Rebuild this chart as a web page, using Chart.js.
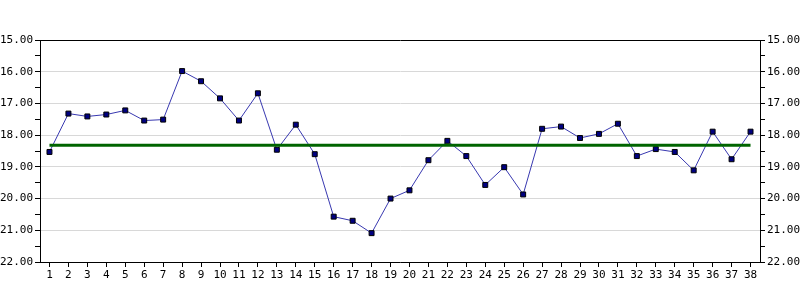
<!DOCTYPE html>
<html>
<head>
<meta charset="utf-8">
<script src="https://cdn.jsdelivr.net/npm/chart.js@4/dist/chart.umd.min.js"></script>
<style>
  html, body { margin: 0; padding: 0; background: #fff; }
  #wrap { width: 800px; height: 300px; }
</style>
</head>
<body>
<div id="wrap"><canvas id="chart" width="800" height="300"></canvas></div>
<script>
const categories = ["1","2","3","4","5","6","7","8","9","10","11","12","13","14","15","16","17","18","19",
  "20","21","22","23","24","25","26","27","28","29","30","31","32","33","34","35","36","37","38"];

const values = [18.53, 17.32, 17.41, 17.35, 17.22, 17.54, 17.51, 15.98, 16.30, 16.84, 17.54, 16.68, 18.46,
  17.67, 18.60, 20.57, 20.70, 21.09, 20.00, 19.74, 18.79, 18.18, 18.66, 19.57, 19.01, 19.87,
  17.80, 17.73, 18.09, 17.96, 17.64, 18.66, 18.44, 18.53, 19.11, 17.89, 18.76, 17.89];

const average = 18.32;
const averageLine = categories.map(() => average);

const yMin = 15;
const yMax = 22;

function fmt(v) {
  return Number.isInteger(v) ? v.toFixed(2) : "";
}

function yAxis(position, mainGrid) {
  return {
    type: "linear",
    position,
    reverse: true,
    min: yMin,
    max: yMax,
    afterFit: s => { s.width = 40; },
    border: { display: true, color: "#000", width: 1 },
    grid: {
      drawOnChartArea: mainGrid,
      drawTicks: true,
      tickLength: 5,
      tickColor: "#000",
      color: ctx => {
        const v = ctx.tick ? ctx.tick.value : 0;
        if (v === yMin) return "#000";
        return Number.isInteger(v) ? "#d8d8d8" : "rgba(0,0,0,0)";
      },
      lineWidth: 1
    },
    ticks: {
      stepSize: 0.5,
      autoSkip: false,
      padding: 2,
      color: "#000",
      font: { family: "DejaVu Sans Mono", size: 11 },
      callback: v => fmt(v)
    }
  };
}

new Chart(document.getElementById("chart"), {
  type: "line",
  data: {
    labels: categories,
    datasets: [
      {
        label: "average",
        data: averageLine,
        borderColor: "#006400",
        borderWidth: 3,
        pointRadius: 0,
        order: 0
      },
      {
        label: "values",
        data: values,
        borderColor: "#3838b0",
        borderWidth: 1,
        pointStyle: "rect",
        pointRadius: 3.5,
        pointBackgroundColor: "#000080",
        pointBorderColor: "#000",
        pointBorderWidth: 1,
        tension: 0,
        order: 1
      }
    ]
  },
  options: {
    responsive: false,
    animation: false,
    layout: { padding: { top: 40, left: 0, right: 0, bottom: 0 } },
    plugins: {
      legend: { display: false },
      tooltip: { enabled: false }
    },
    scales: {
      x: {
        type: "category",
        offset: true,
        afterFit: s => { s.height = 38; },
        border: { display: true, color: "#000", width: 1 },
        grid: {
          offset: false,
          drawOnChartArea: false,
          drawTicks: true,
          tickLength: 5,
          color: "#000"
        },
        ticks: {
          autoSkip: false,
          maxRotation: 0,
          padding: 2,
          color: "#000",
          font: { family: "DejaVu Sans Mono", size: 11 }
        }
      },
      y: yAxis("left", true),
      y2: yAxis("right", false)
    }
  }
});
</script>
</body>
</html>
